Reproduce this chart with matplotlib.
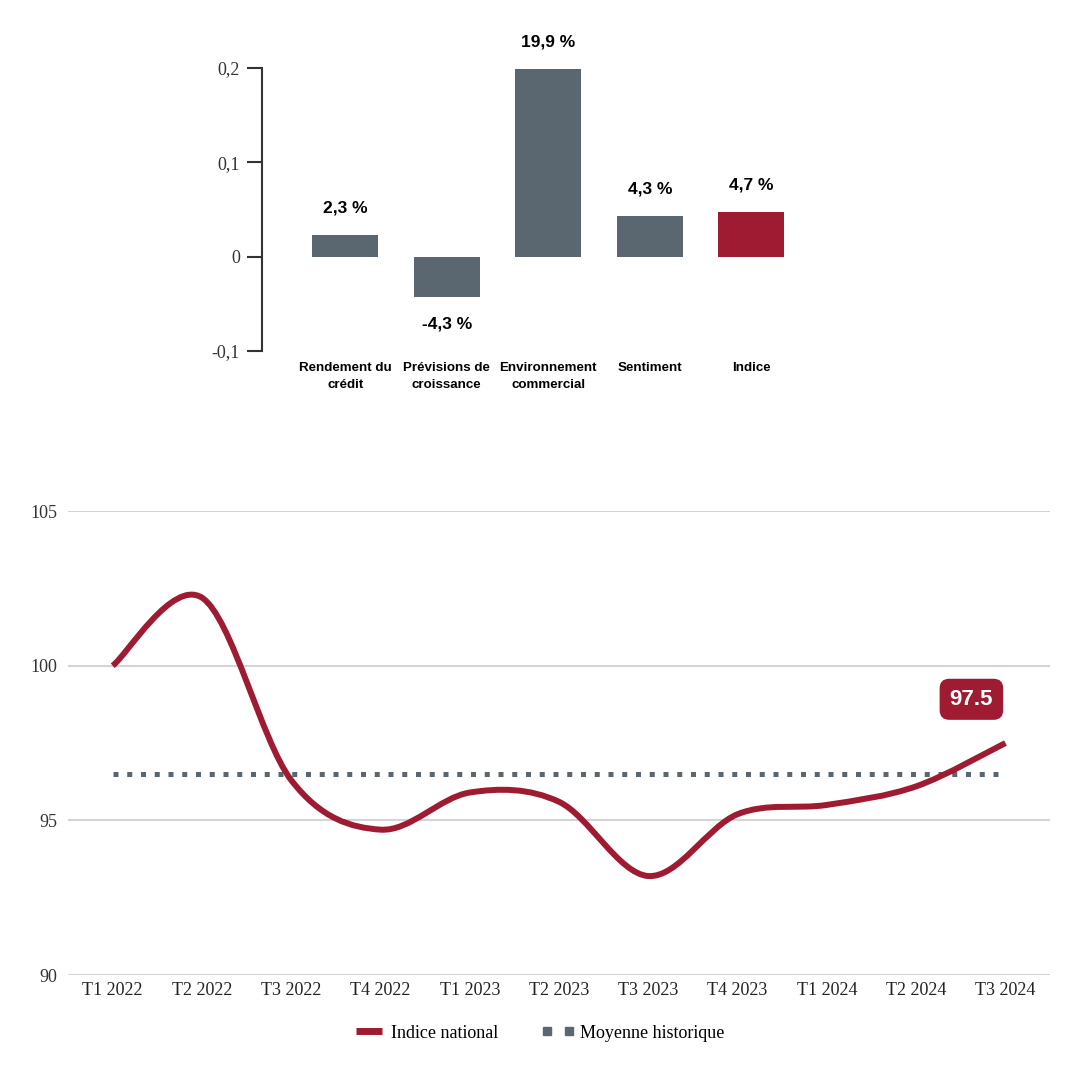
import numpy as np
import matplotlib
matplotlib.use('Agg')
import matplotlib.pyplot as plt
from matplotlib.path import Path
from matplotlib.patches import PathPatch
from matplotlib.lines import Line2D
from matplotlib.legend_handler import HandlerLine2D

# ---- data ----
categories = ['Rendement du\ncrédit', 'Prévisions de\ncroissance', 'Environnement\ncommercial',
              'Sentiment', 'Indice']
contrib = [0.023, -0.043, 0.199, 0.043, 0.047]

quarters = ['T1 2022', 'T2 2022', 'T3 2022', 'T4 2022', 'T1 2023', 'T2 2023',
            'T3 2023', 'T4 2023', 'T1 2024', 'T2 2024', 'T3 2024']
indice = [100.0, 102.2, 96.3, 94.7, 95.9, 95.6, 93.2, 95.2, 95.5, 96.1, 97.5]
moyenne = 96.5

RED = '#9e1b32'
GRAY = '#5b6770'
SERIF = 'Liberation Serif'
SANS = 'Liberation Sans'

fig = plt.figure(figsize=(10.8, 10.8), dpi=100)

# ---------- top : bar chart ----------
ax1 = fig.add_axes([0.2426, 0.675, 0.5, 0.262])
x = np.arange(len(categories))
colors = [GRAY]*(len(categories)-1) + [RED]
ax1.bar(x, contrib, width=0.65, color=colors)
ax1.set_xlim(-0.82, 4.5)
ax1.set_ylim(-0.1, 0.2)
ax1.set_yticks([-0.1, 0, 0.1, 0.2])
ax1.set_yticklabels(['-0,1', '0', '0,1', '0,2'], fontfamily=SERIF, fontsize=13, color='#333333')
ax1.tick_params(axis='y', length=11, width=1.5, color='#333333', pad=5)
ax1.set_xticks(x)
ax1.set_xticklabels(categories, fontfamily=SANS, fontweight='bold', fontsize=9.6,
                    linespacing=1.5)
ax1.tick_params(axis='x', length=0, pad=8)
for s in ['top', 'right', 'bottom']:
    ax1.spines[s].set_visible(False)
ax1.spines['left'].set_linewidth(1.5)
ax1.spines['left'].set_color('#333333')

for xi, v in zip(x, contrib):
    lbl = f'{v*100:.1f} %'.replace('.', ',')
    off = 19.5 if v >= 0 else -19.5
    ax1.annotate(lbl, (xi, v), xytext=(0, off), textcoords='offset points',
                 ha='center', va='center', fontfamily=SANS, fontweight='bold',
                 fontsize=12.5, annotation_clip=False)

# ---------- bottom : line chart ----------
ax2 = fig.add_axes([0.063, 0.0972, 0.9093, 0.4296])
xq = np.arange(len(quarters))

# smooth curve through the points (cubic bezier segments, catmull-rom tangents)
pts = np.column_stack([xq, indice]).astype(float)
verts = [pts[0]]
codes = [Path.MOVETO]
n = len(pts)
for i in range(n-1):
    p0 = pts[max(i-1, 0)]
    p1 = pts[i]
    p2 = pts[i+1]
    p3 = pts[min(i+2, n-1)]
    c1 = p1 + (p2 - p0)/6.0
    c2 = p2 - (p3 - p1)/6.0
    verts += [c1, c2, p2]
    codes += [Path.CURVE4]*3
ax2.add_patch(PathPatch(Path(verts, codes), fill=False, edgecolor=RED, lw=4.3,
                        capstyle='butt', zorder=4))

ax2.plot([xq[0], xq[-1]], [moyenne, moyenne], color=GRAY, lw=3.6,
         linestyle=(0, (1, 1.75)), dash_capstyle='butt', zorder=3)

ax2.set_xlim(-0.5, 10.5)
ax2.set_ylim(90, 105)
ax2.set_yticks([90, 95, 100, 105])
ax2.set_yticklabels(['90', '95', '100', '105'], fontfamily=SERIF, fontsize=13, color='#333333')
ax2.set_xticks(xq)
ax2.set_xticklabels(quarters, fontfamily=SERIF, fontsize=13, color='#222222')
ax2.tick_params(axis='both', length=0)
ax2.tick_params(axis='y', pad=8)
ax2.tick_params(axis='x', pad=5)
ax2.grid(axis='y', color='#d4d4d4', lw=1.5)
ax2.set_axisbelow(True)
for s in ax2.spines.values():
    s.set_visible(False)

# last value label
ax2.annotate(f'{indice[-1]:.1f}', (xq[-1], indice[-1]), xytext=(-24.5, 31.5),
             textcoords='offset points', ha='center', va='center', color='white',
             fontfamily=SANS, fontweight='bold', fontsize=16,
             bbox=dict(boxstyle='round,pad=0.42,rounding_size=0.4', fc=RED, ec=RED))

# legend
h1 = Line2D([0], [0], color=RED, lw=5, solid_capstyle='butt')
h2 = Line2D([0], [0], color=GRAY, ls='none', marker='s', markersize=5.5)
fig.legend([h1, h2], ['Indice national', 'Moyenne historique'], loc='center',
           bbox_to_anchor=(0.5, 0.0435), ncol=2, frameon=False, handlelength=1.44,
           handletextpad=0.5, columnspacing=2.6, numpoints=2,
           handler_map={h1: HandlerLine2D(marker_pad=0, numpoints=2),
                        h2: HandlerLine2D(marker_pad=0.12, numpoints=2)},
           prop={'family': SERIF, 'size': 13})

fig.savefig('out.png', dpi=100, facecolor='white')
